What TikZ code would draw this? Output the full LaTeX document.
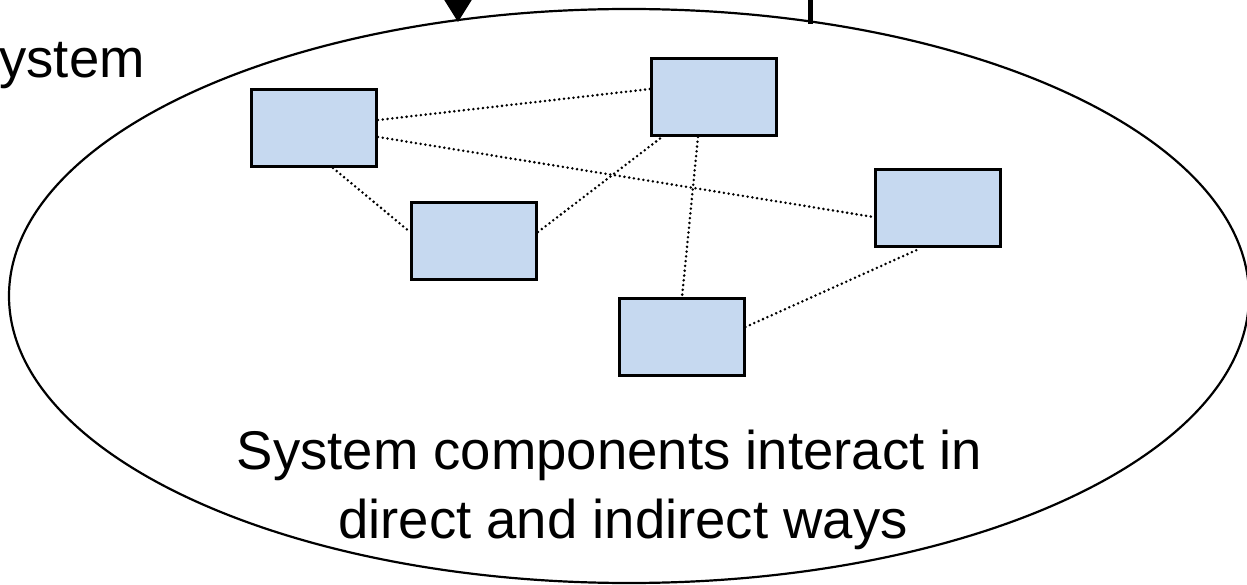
\documentclass[tikz,border=0pt]{standalone}
\usepackage{fontspec}
\setmainfont{Liberation Sans}
\usetikzlibrary{arrows.meta}
\definecolor{boxfill}{RGB}{198,217,240}
\tikzset{
  compbox/.style={draw=black, fill=boxfill, line width=3pt, minimum width=125pt, minimum height=77pt, inner sep=0pt},
  link/.style={line width=2.8pt, line cap=round, dash pattern=on 0pt off 4.8pt},
  bigtext/.style={font=\fontsize{54.5}{66}\selectfont, inner sep=0pt}
}
\begin{document}
\begin{tikzpicture}[x=1pt,y=-1pt]
\useasboundingbox (0,0) rectangle (1247,585);
% enclosing ellipse
\coordinate (sysC) at (629,296);
\draw[line width=2.2pt] (sysC) ellipse [x radius=620, y radius=287];
% label at top left (clipped word)
\node[bigtext, anchor=base east] (syslbl) at (145,78) {System};
% input arrow and output line
\coordinate (inTop) at (458,-40);
\coordinate (inEnd) at (458,22);
\draw[line width=2pt, -{Triangle[width=27pt,length=22pt]}] (inTop) -- (inEnd);
\coordinate (outTop) at (810,-10);
\coordinate (outEnd) at (810,24);
\draw[line width=5pt] (outTop) -- (outEnd);
% components
\node[compbox] (A) at (314,128) {};
\node[compbox] (B) at (474,241) {};
\node[compbox] (C) at (714,97) {};
\node[compbox] (D) at (937.5,208.5) {};
\node[compbox] (E) at (681.5,337) {};
% interactions
\draw[link] ([yshift=8pt]A.east) -- ([yshift=8pt]C.west);
\draw[link] ([yshift=-9pt]A.east) -- ([yshift=-8.5pt]D.west);
\draw[link] ([xshift=19pt]A.south) -- ([yshift=9pt]B.west);
\draw[link] ([yshift=9pt]B.east) -- ([xshift=-52pt]C.south);
\draw[link] ([xshift=-16pt]C.south) -- ([xshift=0.5pt]E.north);
\draw[link] ([yshift=10pt]E.east) -- ([xshift=-17.5pt]D.south);
% caption
\node[bigtext, anchor=base] (cap1) at (609.5,469) {System components interact in};
\node[bigtext, anchor=base] (cap2) at (623,538) {direct and indirect ways};
\end{tikzpicture}
\end{document}
